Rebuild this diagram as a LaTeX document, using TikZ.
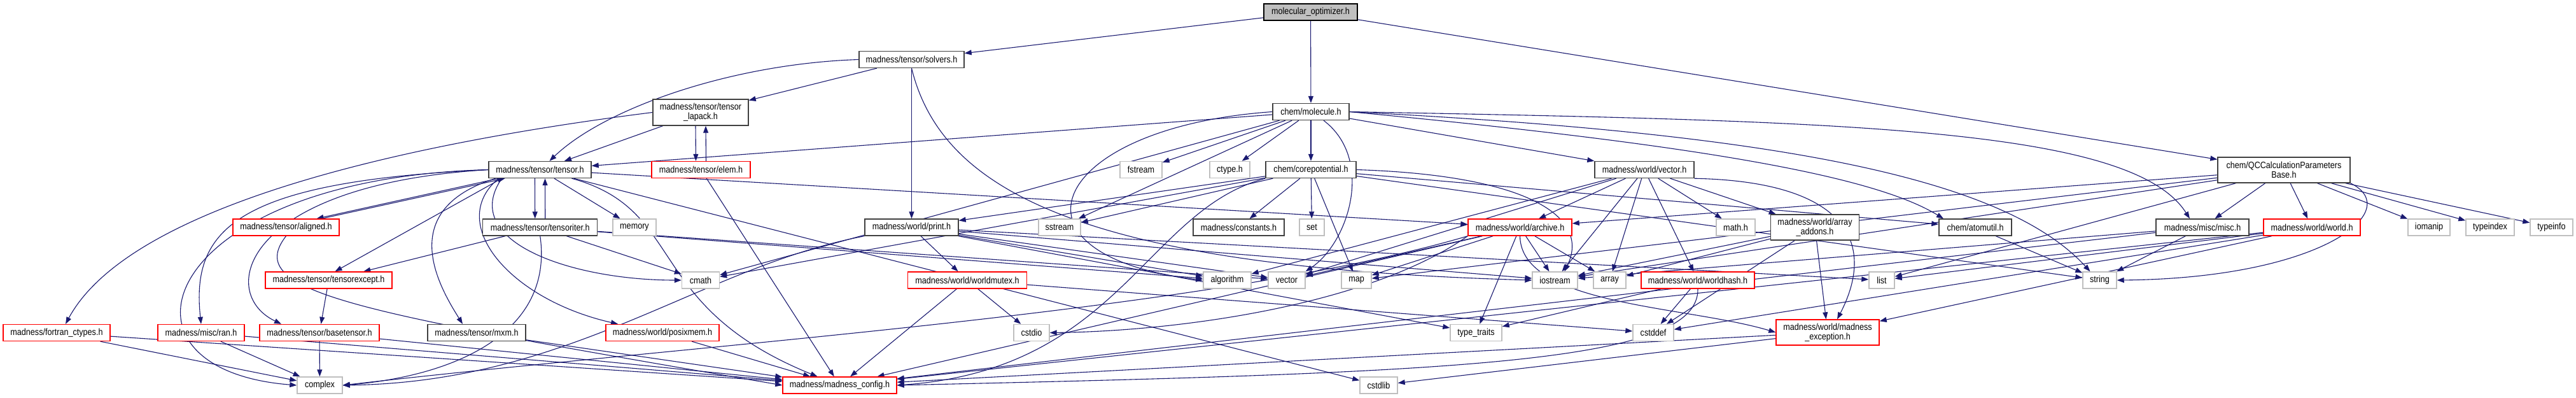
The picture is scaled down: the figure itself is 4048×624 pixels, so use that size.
\documentclass[tikz,border=0pt]{standalone}
\usepackage{fontspec}
\usetikzlibrary{arrows.meta}
\newfontfamily\dfont[FakeStretch=0.87]{Liberation Sans}
\definecolor{mblue}{HTML}{191970}
\definecolor{gtwo}{HTML}{404040}
\definecolor{gsev}{HTML}{BFBFBF}
\pgfdeclarelayer{bg}
\pgfsetlayers{bg,main}
\begin{document}
\begin{tikzpicture}[x=1pt,y=-1pt,
 nd/.style={draw=gtwo,line width=1.4pt,fill=white,minimum height=26pt,inner sep=0pt,align=center,
   font=\dfont\fontsize{14.5pt}{15pt}\selectfont},
 rd/.style={nd,draw=red},
 gd/.style={nd,draw=gsev},
 rootnd/.style={nd,fill=gsev,draw=black},
 edg/.style={draw=mblue,line width=1.1pt,-{Triangle[length=11pt,width=8pt]}}]
\useasboundingbox (0,0) rectangle (4048,624);
% nodes
\node[rootnd, minimum width=147pt] (mo) at (2059.5,19) {molecular\_optimizer.h};
\node[nd, minimum width=165pt] (solvers) at (1432.5,93.5) {madness/tensor/solvers.h};
\node[nd, minimum width=120pt] (molecule) at (2060,175.5) {chem/molecule.h};
\node[nd, minimum width=150pt, minimum height=41pt] (lapack) at (1101,176.5) {madness/tensor/tensor\\\_lapack.h};
\node[nd, minimum width=208pt, minimum height=40pt] (qcc) at (3589,267) {chem/QCCalculationParameters\\Base.h};
\node[nd, minimum width=161pt] (tensor) at (848.5,266.5) {madness/tensor/tensor.h};
\node[rd, minimum width=155pt] (elem) at (1101.5,266.5) {madness/tensor/elem.h};
\node[gd, minimum width=66pt] (fstream) at (1793,266.5) {fstream};
\node[gd, minimum width=63pt] (ctype) at (1932.5,266.5) {ctype.h};
\node[nd, minimum width=142pt] (corepot) at (2060,266.5) {chem/corepotential.h};
\node[nd, minimum width=156pt] (wvector) at (2584,266.5) {madness/world/vector.h};
\node[rd, minimum width=167pt] (aligned) at (449.5,357) {madness/tensor/aligned.h};
\node[nd, minimum width=180pt] (tensoriter) at (848.75,357) {madness/tensor/tensoriter.h};
\node[gd, minimum width=68pt] (memory) at (997,357) {memory};
\node[nd, minimum width=147pt] (print) at (1432.5,357) {madness/world/print.h};
\node[gd, minimum width=66pt] (sstream) at (1665,357) {sstream};
\node[nd, minimum width=143pt] (constants) at (1946.5,357) {madness/constants.h};
\node[gd, minimum width=39pt] (set) at (2061.5,357) {set};
\node[rd, minimum width=163pt] (archive) at (2388.5,357) {madness/world/archive.h};
\node[gd, minimum width=61pt] (mathh) at (2727.5,357) {math.h};
\node[nd, minimum width=139pt, minimum height=40pt] (addons) at (2852,357) {madness/world/array\\\_addons.h};
\node[nd, minimum width=114pt] (atomutil) at (3104,357) {chem/atomutil.h};
\node[nd, minimum width=146pt] (misc) at (3461,357) {madness/misc/misc.h};
\node[rd, minimum width=152pt] (world) at (3633,357) {madness/world/world.h};
\node[gd, minimum width=66pt] (iomanip) at (3817,357) {iomanip};
\node[gd, minimum width=76pt] (typeindex) at (3913,357) {typeindex};
\node[gd, minimum width=67pt] (typeinfo) at (4009.5,357) {typeinfo};
\node[rd, minimum width=199pt] (tensorexcept) at (516.5,440) {madness/tensor/tensorexcept.h};
\node[gd, minimum width=59pt] (cmath) at (1101,440) {cmath};
\node[rd, minimum width=187pt] (worldmutex) at (1520,440) {madness/world/worldmutex.h};
\node[gd, minimum width=75pt] (algorithm) at (1928.5,440) {algorithm};
\node[gd, minimum width=58pt] (vector) at (2022,440) {vector};
\node[gd, minimum width=47pt] (map) at (2131.5,440) {map};
\node[gd, minimum width=71pt] (iostream) at (2443.5,440) {iostream};
\node[gd, minimum width=51pt] (array) at (2529.5,440) {array};
\node[rd, minimum width=178pt] (worldhash) at (2668,440) {madness/world/worldhash.h};
\node[gd, minimum width=40pt] (list) at (2957,440) {list};
\node[gd, minimum width=53pt] (string) at (3299.5,440) {string};
\node[rd, minimum width=168pt] (fortran) at (89,522.5) {madness/fortran\_ctypes.h};
\node[rd, minimum width=136pt] (ran) at (316,522.5) {madness/misc/ran.h};
\node[rd, minimum width=188pt] (basetensor) at (502,522.5) {madness/tensor/basetensor.h};
\node[nd, minimum width=154pt] (mxm) at (749,522.5) {madness/tensor/mxm.h};
\node[rd, minimum width=178pt] (posixmem) at (1041,522.5) {madness/world/posixmem.h};
\node[gd, minimum width=56pt] (cstdio) at (1621,522.5) {cstdio};
\node[gd, minimum width=81pt] (typetraits) at (2319.5,522.5) {type\_traits};
\node[gd, minimum width=64pt] (cstddef) at (2598,522.5) {cstddef};
\node[rd, minimum width=162pt, minimum height=40pt] (mexc) at (2872,522) {madness/world/madness\\\_exception.h};
\node[gd, minimum width=71pt] (complex) at (502.5,605) {complex};
\node[rd, minimum width=179pt] (config) at (1319.5,605) {madness/madness\_config.h};
\node[gd, minimum width=59pt] (cstdlib) at (2166.5,605) {cstdlib};
\begin{pgfonlayer}{bg}
\fill[white] (0,0) rectangle (4048,624);
% root
\draw[edg] (mo) -- (solvers);
\draw[edg] (mo) -- (molecule);
\draw[edg] (mo) -- (qcc);
% solvers
\draw[edg] (solvers.west) .. controls (1150,100) and (950,170) .. ([xshift=15pt]tensor.north);
\draw[edg] (solvers) -- (lapack);
\draw[edg] (solvers) -- (print);
\draw[edg] (solvers.south) .. controls (1480,300) and (1700,420) .. (iostream.west);
% lapack / elem
\draw[edg] (lapack) -- (tensor);
\draw[edg] (lapack.west) .. controls (600,230) and (200,330) .. ([xshift=14pt]fortran.north);
\draw[edg] ([xshift=-8pt]lapack.south) -- ([xshift=-8pt]elem.north);
\draw[edg] ([xshift=8pt]elem.north) -- ([xshift=8pt]lapack.south);
\draw[edg] (elem) -- (config);
% molecule
\draw[edg] (molecule) -- (tensor);
\draw[edg] (molecule) -- (fstream);
\draw[edg] (molecule) -- (ctype);
\draw[edg] (molecule) -- (corepot);
\draw[edg] (molecule) -- (wvector);
\draw[edg] (molecule) -- (cmath);
\draw[edg] (molecule) -- (sstream);
\draw[edg] ([xshift=20pt]molecule.south) .. controls (2160,250) and (2120,380) .. (vector.north east);
\draw[edg] (molecule.west) .. controls (1650,200) and (1560,400) .. (algorithm.west);
\draw[edg] (molecule.east) .. controls (2900,190) and (3350,200) .. ([xshift=-20pt]misc.north);
\draw[edg] (molecule.east) .. controls (2800,210) and (3150,280) .. ([xshift=-15pt]string.north);
\draw[edg] (molecule.east) .. controls (2700,230) and (2950,280) .. ([xshift=-50pt]atomutil.north);
% qcc
\draw[edg] (qcc) -- (archive);
\draw[edg] (qcc) -- (misc);
\draw[edg] (qcc) -- (world);
\draw[edg] (qcc) -- (iomanip);
\draw[edg] (qcc) -- (typeindex);
\draw[edg] (qcc) -- (typeinfo);
\draw[edg] (qcc.south east) .. controls (3780,330) and (3650,437) .. (string.east);
\draw[edg] (qcc) -- (list);
\draw[edg] (qcc) -- (map);
\draw[edg] (qcc) -- (iostream);
% tensor
\draw[edg] ([xshift=-65pt]tensor.south) -- ([xshift=48pt]aligned.north);
\draw[edg] ([xshift=56pt]aligned.north) -- ([xshift=-55pt]tensor.south);
\draw[edg] ([xshift=-8pt]tensor.south) -- ([xshift=-8pt]tensoriter.north);
\draw[edg] ([xshift=8pt]tensoriter.north) -- ([xshift=8pt]tensor.south);
\draw[edg] (tensor) -- (memory);
\draw[edg] ([xshift=-60pt]tensor.south) -- ([xshift=10pt]tensorexcept.north);
\draw[edg] (tensor.west) .. controls (380,290) and (340,460) .. ([xshift=-60pt]basetensor.north);
\draw[edg] (tensor.west) .. controls (370,285) and (300,360) .. (ran.north);
\draw[edg] ([xshift=-70pt]tensor.south) .. controls (620,330) and (690,450) .. ([xshift=-22pt]mxm.north);
\draw[edg] ([xshift=-65pt]tensor.south) .. controls (700,350) and (800,470) .. ([xshift=-70pt]posixmem.north);
\draw[edg] (tensor.west) .. controls (250,280) and (150,580) .. (complex.west);
\draw[edg] ([xshift=-60pt]tensor.south) .. controls (720,380) and (900,440) .. (cmath.west);
\draw[edg] ([xshift=50pt]tensor.south) .. controls (1080,330) and (1010,480) .. ([xshift=-35pt]config.north);
\draw[edg] (tensor) -- (archive);
\draw[edg] (tensor) -- (cstdlib);
% tensoriter
\draw[edg] (tensoriter) -- (tensorexcept);
\draw[edg] (tensoriter) -- (cmath);
\draw[edg] (tensoriter.south) .. controls (870,520) and (720,590) .. (complex.east);
\draw[edg] (tensoriter) -- (algorithm);
\draw[edg] (tensoriter) -- (vector);
% lower tensor headers
\draw[edg] (tensorexcept) -- (basetensor);
\draw[edg] (basetensor) -- (complex);
\draw[edg] (basetensor) -- (config);
\draw[edg] (fortran) -- (complex);
\draw[edg] (fortran) -- (config);
\draw[edg] (ran) -- (complex);
\draw[edg] (ran) -- (config);
\draw[edg] (mxm) -- (config);
\draw[edg] (posixmem) -- (config);
\draw[edg] (aligned.south) .. controls (380,460) and (560,490) .. (config.west);
% corepotential
\draw[edg] (corepot) -- (print);
\draw[edg] (corepot) -- (sstream);
\draw[edg] (corepot) -- (constants);
\draw[edg] (corepot) -- (set);
\draw[edg] (corepot) -- (map);
\draw[edg] (corepot) -- (atomutil);
\draw[edg] (corepot.east) .. controls (2400,275) and (2500,340) .. ([xshift=15pt]iostream.north);
\draw[edg] (corepot) -- (string);
\draw[edg] (corepot) -- (cmath);
\draw[edg] (corepot.south west) .. controls (1800,330) and (1760,580) .. (config.east);
% world/vector.h
\draw[edg] (wvector) -- (archive);
\draw[edg] (wvector) -- (mathh);
\draw[edg] (wvector) -- (addons);
\draw[edg] (wvector) -- (iostream);
\draw[edg] (wvector) -- (array);
\draw[edg] (wvector) -- (worldhash);
\draw[edg] (wvector.south east) .. controls (2900,285) and (2950,380) .. ([xshift=15pt]mexc.north);
\draw[edg] (wvector) -- (vector);
\draw[edg] (wvector) -- (algorithm);
% print
\draw[edg] (print) -- (worldmutex);
\draw[edg] (print) -- (algorithm);
\draw[edg] (print) -- (vector);
\draw[edg] (print) -- (iostream);
\draw[edg] (print) -- (list);
\draw[edg] (print.south west) .. controls (1100,420) and (900,600) .. (complex.east);
\draw[edg] (print) -- (typetraits);
% worldmutex
\draw[edg] (worldmutex) -- (cstdio);
\draw[edg] (worldmutex) -- (config);
\draw[edg] (worldmutex) -- (cstddef);
% archive
\draw[edg] (archive) -- (map);
\draw[edg] (archive) -- (vector);
\draw[edg] (archive) -- (iostream);
\draw[edg] (archive) -- (array);
\draw[edg] (archive) -- (typetraits);
\draw[edg] (archive.south) .. controls (2390,480) and (2650,480) .. (mexc.west);
\draw[edg] (archive.south west) .. controls (2150,480) and (1850,520) .. (cstdio.east);
\draw[edg] (archive.south west) .. controls (1900,490) and (1100,540) .. (complex.east);
\draw[edg] (archive) -- (config);
% worldhash
\draw[edg] (worldhash) -- (typetraits);
\draw[edg] (worldhash) -- (cstddef);
\draw[edg] (worldhash.south) .. controls (2670,570) and (2300,585) .. (config.east);
% array_addons
\draw[edg] (addons) -- (array);
\draw[edg] (addons) -- (iostream);
\draw[edg] (addons) -- (mexc);
\draw[edg] (addons) -- (cstddef);
% others
\draw[edg] (atomutil) -- (string);
\draw[edg] (misc) -- (string);
\draw[edg] (misc) -- (iostream);
\draw[edg] (misc) -- (config);
\draw[edg] (world) -- (config);
\draw[edg] (world) -- (mexc);
\draw[edg] (world) -- (cstddef);
\draw[edg] (world) -- (list);
\draw[edg] (mexc) -- (config);
\draw[edg] (mexc) -- (cstdlib);
\end{pgfonlayer}
\end{tikzpicture}
\end{document}
